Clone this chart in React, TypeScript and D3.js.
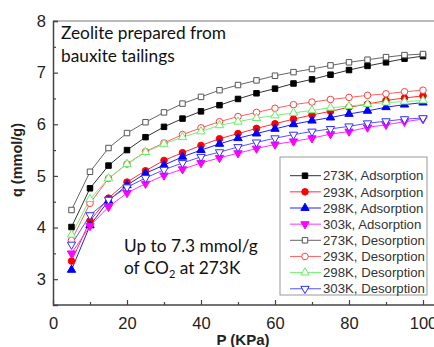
import React, { FC, useEffect, useRef } from "react"
import {
  select,
  scaleLinear,
  line,
  axisBottom,
  axisLeft,
  symbol,
  symbolSquare,
  symbolCircle,
  symbolTriangle,
} from "d3"

const pressure = [5, 10, 15, 20, 25, 30, 35, 40, 45, 50, 55, 60, 65, 70, 75, 80, 85, 90, 95, 100]

const ads273 = [4.01, 4.76, 5.2, 5.5, 5.75, 5.95, 6.11, 6.25, 6.37, 6.49, 6.6, 6.69, 6.79, 6.87, 6.96, 7.05, 7.13, 7.2, 7.27, 7.32]
const ads293 = [3.35, 4.13, 4.57, 4.88, 5.1, 5.3, 5.45, 5.59, 5.72, 5.82, 5.92, 6.01, 6.1, 6.18, 6.25, 6.33, 6.39, 6.46, 6.51, 6.55]
const ads298 = [3.18, 4.04, 4.52, 4.82, 5.05, 5.21, 5.37, 5.5, 5.62, 5.73, 5.82, 5.91, 6.0, 6.07, 6.13, 6.2, 6.26, 6.33, 6.38, 6.42]
const ads303 = [3.5, 4.03, 4.4, 4.67, 4.85, 5.01, 5.13, 5.25, 5.35, 5.44, 5.53, 5.61, 5.67, 5.73, 5.81, 5.86, 5.94, 5.99, 6.05, 6.1]
const des273 = [4.34, 5.08, 5.54, 5.83, 6.04, 6.23, 6.4, 6.53, 6.66, 6.76, 6.85, 6.94, 7.01, 7.07, 7.14, 7.2, 7.25, 7.3, 7.34, 7.36]
const des293 = [3.75, 4.47, 4.95, 5.23, 5.47, 5.64, 5.8, 5.93, 6.05, 6.15, 6.23, 6.31, 6.38, 6.43, 6.48, 6.52, 6.56, 6.59, 6.63, 6.66]
const des298 = [3.86, 4.55, 4.95, 5.23, 5.46, 5.62, 5.75, 5.86, 5.98, 6.05, 6.12, 6.17, 6.22, 6.27, 6.32, 6.35, 6.39, 6.42, 6.44, 6.46]
const des303 = [3.67, 4.24, 4.54, 4.78, 4.96, 5.12, 5.25, 5.37, 5.46, 5.56, 5.65, 5.73, 5.8, 5.86, 5.91, 5.96, 6.02, 6.06, 6.1, 6.12]

const seriesNames = [
  "273K, Adsorption",
  "293K, Adsorption",
  "298K, Adsorption",
  "303k, Adsorption",
  "273K, Desorption",
  "293K, Desorption",
  "298K, Desorption",
  "303K, Desorption",
]

const xTicks = [0, 20, 40, 60, 80, 100]
const xMinorTicks = [10, 30, 50, 70, 90]
const yTicks = [3, 4, 5, 6, 7, 8]
const yMinorTicks = [3.5, 4.5, 5.5, 6.5, 7.5]

type S = {
  name: string
  values: number[]
  shape: "square" | "circle" | "up" | "down"
  color: string
  lineColor: string
  filled: boolean
}

const App: FC = () => {
  const svgRef = useRef<SVGSVGElement>(null)

  useEffect(() => {
    const svg = select(svgRef.current)
    svg.selectAll("*").remove()

    const series: S[] = [
      { name: seriesNames[0], values: ads273, shape: "square", color: "#000", lineColor: "#333", filled: true },
      { name: seriesNames[1], values: ads293, shape: "circle", color: "#ff0000", lineColor: "#ff3030", filled: true },
      { name: seriesNames[2], values: ads298, shape: "up", color: "#0000ff", lineColor: "#2020ff", filled: true },
      { name: seriesNames[3], values: ads303, shape: "down", color: "#ff00ff", lineColor: "#ff30ff", filled: true },
      { name: seriesNames[4], values: des273, shape: "square", color: "#555", lineColor: "#666", filled: false },
      { name: seriesNames[5], values: des293, shape: "circle", color: "#ff4040", lineColor: "#ff6060", filled: false },
      { name: seriesNames[6], values: des298, shape: "up", color: "#66ee66", lineColor: "#77ee77", filled: false },
      { name: seriesNames[7], values: des303, shape: "down", color: "#3030ff", lineColor: "#5555ff", filled: false },
    ]

    // scales
    const xScale = scaleLinear().domain([0, 100]).range([53, 423])
    const yScale = scaleLinear().domain([2.5, 8]).range([305, 21])

    const symbolPath = (shape: S["shape"]) => {
      if (shape === "square") return symbol(symbolSquare, 30)()
      if (shape === "circle") return symbol(symbolCircle, 34)()
      return symbol(symbolTriangle, 30)()
    }

    // frame top line
    svg
      .append("line")
      .attr("x1", 53)
      .attr("x2", 434)
      .attr("y1", 21)
      .attr("y2", 21)
      .attr("stroke", "#777")
      .attr("stroke-width", 1.2)

    // series
    const plot = svg.append("g")
    series.forEach((s) => {
      const pts = s.values.map((v, i) => [pressure[i], v] as [number, number])
      const lineGenerator = line<[number, number]>()
        .x((d) => xScale(d[0]))
        .y((d) => yScale(d[1]))
      plot
        .append("path")
        .attr("d", lineGenerator(pts))
        .attr("fill", "none")
        .attr("stroke", s.lineColor)
        .attr("stroke-width", 1)
    })
    series.forEach((s) => {
      s.values.forEach((v, i) => {
        const rot = s.shape === "down" ? " rotate(180)" : ""
        plot
          .append("path")
          .attr("d", symbolPath(s.shape))
          .attr("transform", `translate(${xScale(pressure[i])},${yScale(v)})${rot}`)
          .attr("fill", s.filled ? s.color : "#fff")
          .attr("stroke", s.color)
          .attr("stroke-width", 1)
      })
    })

    // x axis
    const xAxis = svg.append("g").attr("transform", `translate(0,305)`)
    xAxis.call(axisBottom(xScale).tickValues(xTicks).tickSize(-5).tickPadding(12).tickFormat((d) => `${d}`))
    svg
      .append("g")
      .attr("transform", `translate(0,305)`)
      .call(axisBottom(xScale).tickValues(xMinorTicks).tickSize(-3).tickFormat(() => ""))
      .select(".domain")
      .remove()
    xAxis.select(".domain").attr("d", "M53,0H434")

    // y axis
    const yAxis = svg.append("g").attr("transform", `translate(53,0)`)
    yAxis.call(axisLeft(yScale).tickValues(yTicks).tickSize(-5).tickPadding(7).tickFormat((d) => `${d}`))
    svg
      .append("g")
      .attr("transform", `translate(53,0)`)
      .call(axisLeft(yScale).tickValues(yMinorTicks).tickSize(-3).tickFormat(() => ""))
      .select(".domain")
      .remove()

    svg.selectAll(".domain").attr("stroke", "#444").attr("stroke-width", 1.5)
    svg.selectAll(".tick line").attr("stroke", "#444").attr("stroke-width", 1.2)
    svg
      .selectAll(".tick text")
      .attr("font-family", "'Liberation Sans', Arial, sans-serif")
      .attr("font-size", 16.5)
      .attr("fill", "#222")

    // axis titles
    svg
      .append("text")
      .attr("x", 243)
      .attr("y", 345)
      .attr("text-anchor", "middle")
      .attr("font-family", "'Liberation Sans', Arial, sans-serif")
      .attr("font-weight", "bold")
      .attr("font-size", 15)
      .attr("fill", "#222")
      .text("P (KPa)")
    svg
      .append("text")
      .attr("transform", "translate(22,160) rotate(-90)")
      .attr("text-anchor", "middle")
      .attr("font-family", "'Liberation Sans', Arial, sans-serif")
      .attr("font-weight", "bold")
      .attr("font-size", 14.5)
      .attr("fill", "#222")
      .text("q (mmol/g)")

    // legend
    const legend = svg.append("g")
    legend
      .append("rect")
      .attr("x", 280)
      .attr("y", 157)
      .attr("width", 147)
      .attr("height", 138)
      .attr("fill", "#fff")
      .attr("stroke", "#999")
      .attr("stroke-width", 1)
    series.forEach((s, i) => {
      const cy = 175.7 + i * 16.15
      legend
        .append("line")
        .attr("x1", 290)
        .attr("x2", 321)
        .attr("y1", cy)
        .attr("y2", cy)
        .attr("stroke", s.lineColor)
        .attr("stroke-width", 1)
      const rot = s.shape === "down" ? " rotate(180)" : ""
      legend
        .append("path")
        .attr("d", symbolPath(s.shape))
        .attr("transform", `translate(305,${cy})${rot}`)
        .attr("fill", s.filled ? s.color : "#fff")
        .attr("stroke", s.color)
      legend
        .append("text")
        .attr("x", 323)
        .attr("y", cy + 4.7)
        .attr("font-family", "'Liberation Sans', Arial, sans-serif")
        .attr("font-size", 13.2)
        .attr("fill", "#333")
        .text(s.name)
    })

    // annotations
    const note = svg
      .append("g")
      .attr("font-family", "Lato, 'Open Sans', sans-serif")
      .attr("font-size", 17.3)
      .attr("fill", "#111")
    note.append("text").attr("x", 61).attr("y", 39).text("Zeolite prepared from")
    note.append("text").attr("x", 61).attr("y", 62).text("bauxite tailings")
    note.append("text").attr("x", 124).attr("y", 252).text("Up to 7.3 mmol/g")
    const co2 = note.append("text").attr("x", 124).attr("y", 274)
    co2.append("tspan").text("of CO")
    co2.append("tspan").attr("font-size", 11).attr("dy", 4).text("2")
    co2.append("tspan").attr("dy", -4).text(" at 273K")
  }, [])

  return (
    <svg
      ref={svgRef}
      width={434}
      height={347}
      style={{ position: "absolute", left: 0, top: 0, background: "#fff" }}
    />
  )
}

export default App
